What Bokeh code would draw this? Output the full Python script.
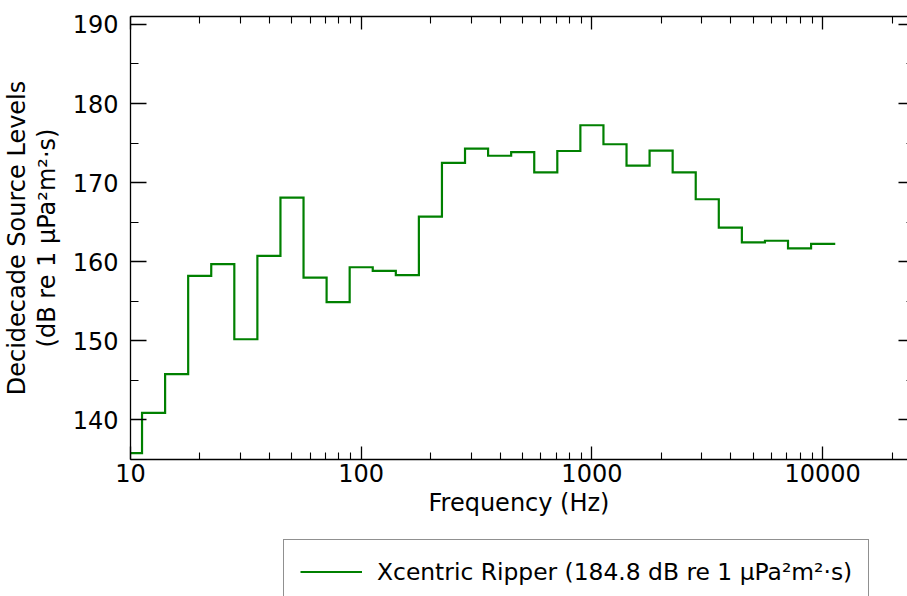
import numpy as np
from bokeh.plotting import figure
from bokeh.layouts import column
from bokeh.models import (LogAxis, LinearAxis, SingleIntervalTicker, FixedTicker,
                          NumeralTickFormatter, Range1d, Legend, LegendItem, ColumnDataSource)
from bokeh.embed import file_html
from bokeh.resources import INLINE

# Decidecade band centre frequencies (Hz)
band_centers_hz = [10, 12.59, 15.85, 19.95, 25.12, 31.62, 39.81, 50.12, 63.10, 79.43,
                   100, 125.9, 158.5, 199.5, 251.2, 316.2, 398.1, 501.2, 631.0, 794.3,
                   1000, 1259, 1585, 1995, 2512, 3162, 3981, 5012, 6310, 7943, 10000]
# Decidecade source levels (dB re 1 µPa²m²·s)
levels_db = [135.8, 140.9, 145.8, 158.2, 159.7, 150.2, 160.75, 168.1, 158.0, 154.9,
             159.3, 158.85, 158.3, 165.7, 172.5, 174.3, 173.4, 173.85, 171.3, 174.0,
             177.25, 174.85, 172.15, 174.05, 171.3, 167.9, 164.3, 162.45, 162.65, 161.7,
             162.25]
x_major_ticks = [10, 100, 1000, 10000]
y_major_ticks = [140, 150, 160, 170, 180, 190]
series_label = "Xcentric Ripper (184.8 dB re 1 µPa²m²·s)"
x_title = "Frequency (Hz)"
y_title = "Decidecade Source Levels\n(dB re 1 µPa²m²·s)"

# build step vertices at band edges (centre / ×10^0.05)
half = 10 ** 0.05
xs, ys = [], []
for f, v in zip(band_centers_hz, levels_db):
    xs += [f / half, f * half]
    ys += [v, v]
src = ColumnDataSource(dict(x=xs, y=ys))

FONT = "DejaVu Sans"
FS = "24px"
GREEN = "#008000"

p = figure(width=907, height=539, x_axis_type="log",
           x_range=Range1d(10, 23330), y_range=Range1d(135, 191),
           output_backend="svg", toolbar_location=None,
           min_border_left=130, min_border_right=0, min_border_top=16,
           min_border_bottom=80)
p.outline_line_color = None
p.xgrid.visible = False
p.ygrid.visible = False
p.background_fill_color = "white"
p.border_fill_color = "white"

r = p.line("x", "y", source=src, line_color=GREEN, line_width=2.2,
           line_join="miter", line_cap="square")

minor_x = [m * 10 ** e for e in range(1, 5) for m in range(2, 10)]

def style_x(ax, labels=True):
    ax.ticker = FixedTicker(ticks=x_major_ticks, minor_ticks=minor_x)
    ax.axis_line_color = "black"
    ax.axis_line_width = 1.3
    ax.major_tick_in = 13
    ax.major_tick_out = 0
    ax.minor_tick_in = 7
    ax.minor_tick_out = 0
    ax.major_tick_line_color = "black"
    ax.minor_tick_line_color = "black"
    ax.major_tick_line_width = 1.3
    ax.minor_tick_line_width = 1.1
    ax.formatter = NumeralTickFormatter(format="0")
    if labels:
        ax.major_label_text_font = FONT
        ax.major_label_text_font_size = FS
        ax.major_label_text_color = "black"
        ax.major_label_standoff = 4
    else:
        ax.major_label_text_font_size = "1px"
        ax.major_label_text_alpha = 0
        ax.major_label_standoff = 0

def style_y(ax, labels=True, line=True, maj=16, mnr=8):
    ax.ticker = SingleIntervalTicker(interval=10, num_minor_ticks=2)
    ax.axis_line_color = "black" if line else None
    ax.axis_line_width = 1.3
    ax.major_tick_in = maj
    ax.major_tick_out = 0
    ax.minor_tick_in = mnr
    ax.minor_tick_out = 0
    ax.major_tick_line_color = "black"
    ax.minor_tick_line_color = "black"
    ax.major_tick_line_width = 1.3
    ax.minor_tick_line_width = 1.1
    if labels:
        ax.major_label_text_font = FONT
        ax.major_label_text_font_size = FS
        ax.major_label_text_color = "black"
        ax.major_label_standoff = 12
    else:
        ax.major_label_text_font_size = "1px"
        ax.major_label_text_alpha = 0
        ax.major_label_standoff = 0

xb = p.xaxis[0]
style_x(xb)
xb.axis_label = x_title
xb.axis_label_text_font = FONT
xb.axis_label_text_font_size = FS
xb.axis_label_text_font_style = "normal"
xb.axis_label_text_color = "black"
xb.axis_label_standoff = 4

yl = p.yaxis[0]
style_y(yl)
yl.axis_label = y_title
yl.axis_label_text_font = FONT
yl.axis_label_text_font_size = FS
yl.axis_label_text_font_style = "normal"
yl.axis_label_text_color = "black"
yl.axis_label_text_line_height = 1.05
yl.axis_label_standoff = 9

xt = LogAxis()
style_x(xt, labels=False)
p.add_layout(xt, "above")

yr = LinearAxis()
style_y(yr, labels=False, line=False, maj=9, mnr=1)
p.add_layout(yr, "right")

# legend strip below the chart (box runs past the bottom edge, as in the reference)
p2 = figure(width=907, height=57, x_range=Range1d(0, 1), y_range=Range1d(0, 1),
            output_backend="svg", toolbar_location=None,
            x_axis_location=None, y_axis_location=None,
            min_border_left=0, min_border_right=0, min_border_top=0, min_border_bottom=0)
p2.outline_line_color = None
p2.xgrid.visible = False
p2.ygrid.visible = False
r2 = p2.line("x", "y", source=src, line_color=GREEN, line_width=2.2)

legend = Legend(items=[LegendItem(label=series_label, renderers=[r2])],
                location=(153, -8), orientation="vertical",
                padding=16, margin=0, spacing=0,
                glyph_width=62, glyph_height=31, label_height=31,
                label_standoff=15,
                label_text_font=FONT, label_text_font_size="23.4px",
                label_text_color="black",
                border_line_color="#222222", border_line_width=1.6,
                background_fill_color="white", background_fill_alpha=1.0)
p2.add_layout(legend, "center")

layout = column(p, p2, spacing=0)
open("out.html", "w").write(file_html(layout, INLINE))
